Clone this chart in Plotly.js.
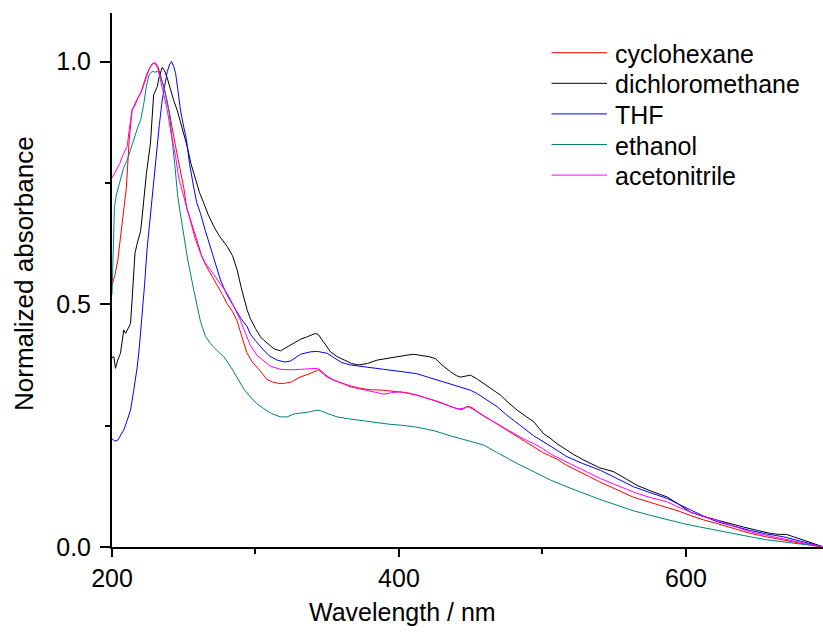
<!DOCTYPE html>
<html>
<head>
<meta charset="utf-8">
<script src="https://cdn.plot.ly/plotly-3.0.1.min.js"></script>
<style>html,body{margin:0;padding:0;background:#fff;}#chart{width:823px;height:637px;}</style>
</head>
<body>
<div id="chart"></div>
<script>
// Series names
const seriesNames = ["cyclohexane", "dichloromethane", "THF", "ethanol", "acetonitrile"];

// cyclohexane
const wlCyclohexane = [200,202,204,206,208,210,212,214,216,218,220,222,224,226,228,230,232,234,236,238,240,242,244,246,248,250,252,254,257,260,263,266,270,273,277,280,284,287,290,294,298,303,308,312,316,320,325,331,336,340,344,347,350,355,361,367,373,380,389,395,401,407,412,420,427,434,440,444,448,451,455,462,468,475,482,490,494,500,505,510,517,525,532,540,550,563,575,587,595,603,612,622,633,645,656,668,680,690,696];
const absCyclohexane = [0.54,0.56,0.59,0.64,0.69,0.74,0.84,0.90,0.91,0.925,0.935,0.955,0.972,0.985,0.995,0.998,0.99,0.97,0.948,0.925,0.895,0.86,0.83,0.80,0.77,0.74,0.70,0.68,0.653,0.62,0.595,0.577,0.556,0.543,0.52,0.502,0.485,0.467,0.44,0.40,0.38,0.364,0.345,0.34,0.337,0.337,0.34,0.35,0.355,0.36,0.365,0.357,0.35,0.343,0.337,0.331,0.327,0.324,0.323,0.321,0.32,0.317,0.313,0.306,0.30,0.292,0.285,0.283,0.29,0.287,0.278,0.265,0.254,0.24,0.227,0.213,0.206,0.195,0.188,0.181,0.168,0.157,0.146,0.134,0.12,0.103,0.092,0.082,0.074,0.065,0.056,0.048,0.038,0.028,0.021,0.014,0.008,0.002,0.0];

// dichloromethane
const wlDichloromethane = [200,201.3,202.4,204,205.9,207,208.2,209.5,211,212.9,214,215.1,216,217.6,219.9,221,222.2,224,226.8,229,231.5,233,235,236.5,238.5,241,243,245.4,249,252.4,255,258.2,261,264,267,271,275,280.3,284,287.2,290,294.2,296.5,300,303.5,305.8,310,313,317.4,321,325,331.4,336,341.8,344,348,352.3,357,361.5,367,372,378,384.8,392,398.7,405,410.3,417,421,425.4,430,435.9,440,442.9,446,449.8,454,459.1,465,470.7,476,482.3,488,493.9,500.9,505,510,517.1,522,528.8,535,540,549.7,558,565.9,575,586.9,595,603,612,621.7,630,640.2,650,658.8,665,670,675.1,682,689,696];
const absDichloromethane = [0.39,0.392,0.368,0.385,0.399,0.42,0.447,0.44,0.45,0.46,0.509,0.577,0.605,0.626,0.65,0.68,0.715,0.77,0.832,0.931,0.948,0.97,0.988,0.982,0.966,0.94,0.92,0.90,0.86,0.825,0.79,0.756,0.73,0.708,0.685,0.66,0.64,0.619,0.6,0.571,0.535,0.488,0.47,0.45,0.433,0.426,0.415,0.408,0.404,0.41,0.418,0.428,0.433,0.44,0.437,0.42,0.402,0.392,0.385,0.378,0.375,0.378,0.385,0.389,0.393,0.395,0.397,0.394,0.392,0.388,0.375,0.361,0.353,0.35,0.352,0.354,0.347,0.337,0.325,0.313,0.298,0.282,0.27,0.258,0.233,0.225,0.213,0.199,0.19,0.179,0.17,0.163,0.155,0.14,0.127,0.116,0.103,0.088,0.072,0.063,0.055,0.048,0.041,0.034,0.028,0.026,0.026,0.021,0.014,0.006,0.0];

// THF
const wlTHF = [200,202,204,206,208.2,210.5,212.9,215,217.6,219,221,222.7,224.4,226,228,230,231.5,233,235,237,238.5,240,241.5,243,244.3,246,247.7,250,251.9,254,255.9,257,259,261.7,265,268.6,272,275.6,280,284.9,290,294.2,296.5,300,305.8,310,315.1,320,324.4,331.4,338.3,343,349.9,354.6,360,366.1,375,389.3,400,412.5,420,426.6,434,440.5,449.8,454.5,461,468.4,475,482.3,493.9,504.4,517.1,528,540.4,552,563.6,575,586.9,595,603,612,621.7,633,644.9,656,668.1,680,691.3,696];
const absTHF = [0.223,0.218,0.22,0.23,0.241,0.26,0.282,0.32,0.371,0.41,0.474,0.54,0.612,0.66,0.715,0.78,0.832,0.87,0.921,0.955,0.979,0.993,1.0,0.99,0.976,0.94,0.90,0.865,0.839,0.79,0.756,0.74,0.71,0.687,0.652,0.619,0.585,0.55,0.52,0.495,0.47,0.454,0.438,0.425,0.405,0.393,0.385,0.381,0.383,0.397,0.402,0.403,0.399,0.39,0.38,0.375,0.371,0.366,0.362,0.357,0.35,0.344,0.338,0.331,0.323,0.316,0.303,0.289,0.272,0.256,0.229,0.21,0.186,0.172,0.158,0.141,0.124,0.112,0.1,0.088,0.076,0.064,0.052,0.043,0.034,0.027,0.021,0.012,0.004,0.0];

// ethanol
const wlEthanol = [200,201,201.7,203,205.9,208,210.6,212,214,216,218,220,222,224,226,228,230,231.7,233,235,236.5,238,239.6,241,242,244,245.9,248.9,252.4,257,261.7,265,268.6,273,277.9,283,288.4,292,296.5,301,305.8,311,317.4,322,326.7,332,337,343,346,350,357,365,372,377.8,385,393,401,410,417.3,425,435.9,442.9,450,459.1,468,477.7,482.3,494,505.5,517,528.8,540,552,563,575.3,587,598.5,610,621.7,633,644.9,656,668,680,690,696];
const absEthanol = [0.52,0.62,0.70,0.725,0.76,0.78,0.797,0.81,0.83,0.85,0.865,0.88,0.91,0.95,0.973,0.98,0.978,0.98,0.975,0.96,0.945,0.92,0.90,0.865,0.839,0.78,0.72,0.667,0.598,0.529,0.464,0.435,0.419,0.405,0.392,0.37,0.344,0.325,0.309,0.295,0.285,0.275,0.268,0.268,0.274,0.276,0.278,0.282,0.28,0.275,0.268,0.264,0.261,0.258,0.255,0.253,0.251,0.248,0.244,0.239,0.229,0.223,0.217,0.21,0.195,0.179,0.172,0.155,0.138,0.124,0.11,0.098,0.086,0.075,0.065,0.056,0.048,0.041,0.034,0.027,0.021,0.015,0.01,0.006,0.003,0.0];

// acetonitrile
const wlAcetonitrile = [200,203,205.4,208,210.6,212,214,217,220,222,224,226,228,230,232,234,236,238.5,241,244.3,246.5,248.9,251,254.7,258,261.7,265,268.6,275,280.3,285,289.5,293,296.5,301,305.8,310,317.4,325,331.4,338,343,345,350,354.6,360,366.1,372,377.8,384,389.4,395,401,407,412.6,420,426.6,434,440.5,444,447.5,451,454.5,461,468.4,475,482.3,490,494,500,504.4,510,517,528,540.4,552,563.6,575,586.9,595,603,612,621.7,633,645,656,668,680,690,696];
const absAcetonitrile = [0.76,0.775,0.79,0.81,0.825,0.86,0.90,0.92,0.935,0.95,0.97,0.985,0.995,0.997,0.985,0.96,0.935,0.90,0.855,0.804,0.76,0.735,0.71,0.674,0.635,0.605,0.585,0.571,0.545,0.522,0.495,0.467,0.44,0.415,0.395,0.383,0.373,0.366,0.365,0.366,0.367,0.368,0.365,0.352,0.344,0.337,0.33,0.326,0.322,0.318,0.315,0.318,0.32,0.316,0.313,0.306,0.299,0.291,0.285,0.285,0.289,0.285,0.278,0.266,0.254,0.242,0.23,0.218,0.213,0.203,0.194,0.185,0.175,0.158,0.141,0.127,0.113,0.102,0.093,0.082,0.072,0.063,0.055,0.043,0.031,0.024,0.017,0.01,0.004,0.0];

const xTickVals = [200, 400, 600];
const xTickText = ["200", "400", "600"];
const yTickVals = [0, 0.5, 1.0];
const yTickText = ["0.0", "0.5", "1.0"];

const colors = ["#ff0000", "#000000", "#0000ff", "#008080", "#ff00ff"];
const xs = [wlCyclohexane, wlDichloromethane, wlTHF, wlEthanol, wlAcetonitrile];
const ys = [absCyclohexane, absDichloromethane, absTHF, absEthanol, absAcetonitrile];

const traces = seriesNames.map((name, i) => ({
  type: "scatter",
  mode: "lines",
  name: name,
  x: xs[i],
  y: ys[i],
  line: {color: colors[i], width: 1}
}));

const FONT = "Arial, 'Liberation Sans', sans-serif";
const W = 823, H = 637;
const M = {l: 112, r: 0, t: 13, b: 90};
const plotW = W - M.l - M.r, plotH = H - M.t - M.b;
const px2x = p => (p - M.l) / plotW;
const px2y = p => (H - M.b - p) / plotH;

// Hand-built legend (layout decoration): lines + labels
const legendTop = 52.7, legendStep = 30.6;
const legendShapes = seriesNames.map((n, i) => ({
  type: "line", xref: "paper", yref: "paper",
  x0: px2x(551.5), x1: px2x(607), y0: px2y(legendTop + i * legendStep), y1: px2y(legendTop + i * legendStep),
  line: {color: colors[i], width: 1}
}));
const legendLabels = seriesNames.map((n, i) => ({
  text: n, xref: "paper", yref: "paper",
  x: px2x(613), y: px2y(legendTop + i * legendStep + 1), xanchor: "left", yanchor: "middle",
  showarrow: false, font: {family: FONT, size: 25, color: "#000"}
}));

const layout = {
  width: W,
  height: H,
  margin: {l: M.l, r: M.r, t: M.t, b: M.b, pad: 0},
  paper_bgcolor: "#ffffff",
  plot_bgcolor: "#ffffff",
  font: {family: FONT, size: 25, color: "#000000"},
  showlegend: false,
  xaxis: {
    range: [200, 695.5],
    showgrid: false, zeroline: false,
    showline: true, linecolor: "#000", linewidth: 2,
    ticks: "outside", ticklen: 8, tickwidth: 2, tickcolor: "#000",
    tickvals: xTickVals, ticktext: xTickText,
    tickfont: {family: FONT, size: 25, color: "#000"},
    minor: {dtick: 100, tick0: 200, ticks: "outside", ticklen: 5, tickwidth: 2, tickcolor: "#000", showgrid: false}
  },
  yaxis: {
    range: [0, 1.1],
    showgrid: false, zeroline: false,
    showline: true, linecolor: "#000", linewidth: 2,
    ticks: "outside", ticklen: 10, tickwidth: 2, tickcolor: "#000",
    ticklabelstandoff: 4,
    tickvals: yTickVals, ticktext: yTickText,
    tickfont: {family: FONT, size: 25, color: "#000"},
    minor: {dtick: 0.25, tick0: 0, ticks: "outside", ticklen: 5, tickwidth: 2, tickcolor: "#000", showgrid: false}
  },
  shapes: legendShapes,
  annotations: [{
    text: "Wavelength / nm", xref: "paper", yref: "paper",
    x: px2x(402), y: px2y(612), xanchor: "center", yanchor: "middle",
    showarrow: false, font: {family: FONT, size: 25, color: "#000"}
  }, {
    text: "Normalized absorbance", xref: "paper", yref: "paper",
    x: px2x(24), y: px2y(274), xanchor: "center", yanchor: "middle", textangle: -90,
    showarrow: false, font: {family: FONT, size: 26, color: "#000"}
  }].concat(legendLabels)
};

Plotly.newPlot("chart", traces, layout, {displayModeBar: false, staticPlot: true});
</script>
</body>
</html>
